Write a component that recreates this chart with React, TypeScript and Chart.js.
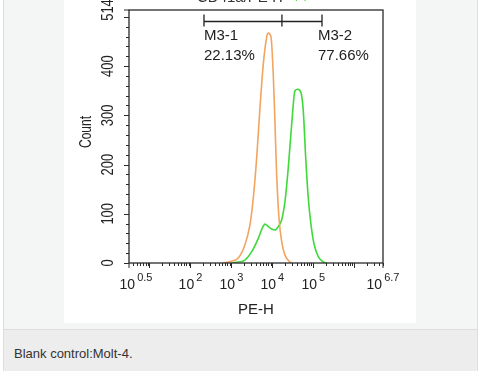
import React, { useEffect, useRef } from "react";
import { Chart, registerables } from "chart.js";

Chart.register(...registerables);

// Isotype (blank) control histogram: PE-H channel value, count
const isoX = [630, 930, 1470, 2140, 2840, 3420, 4140, 4980, 6000, 7260, 7940, 9250, 10500, 11600, 12700, 14500, 16900, 20300, 26900, 30500];
const isoY = [0, 3, 10, 37, 78, 132, 214, 316, 404, 459, 467, 459, 384, 282, 180, 91, 43, 16, 2, 0];

// Stained sample histogram
const stainX = [1000, 1470, 2140, 3130, 4530, 5670, 6610, 7940, 9620, 11600, 13900, 16900, 20300, 24400, 29600, 35600, 41500, 49900, 56800, 65000, 75200, 87500, 105000, 132000, 175000, 214000];
const stainY = [0, 2, 6, 23, 50, 71, 79, 74, 69, 67, 74, 88, 125, 193, 282, 350, 353, 346, 309, 214, 132, 78, 37, 13, 2, 0];

// Axes
const xMin = Math.pow(10, 0.5);
const xMax = Math.pow(10, 6.7);
const xTickValues = [Math.pow(10, 0.5), 1e2, 1e3, 1e4, 1e5, Math.pow(10, 6.7)];
const xTickExponents = ["0.5", "2", "3", "4", "5", "6.7"];
const yMax = 514;
const yTickValues = [0, 100, 200, 300, 400, 514];
const yTickLabels = ["0", "100", "200", "300", "400", "514"];

// Gates
const gateEdges = [214, 17100, 162600];
const gateLevel = 492;
const gateNames = ["M3-1", "M3-2"];
const gatePercents = ["22.13%", "77.66%"];

const FONT = '"Liberation Sans", Arial, Helvetica, sans-serif';

const axesPlugin = {
  id: "facsAxes",
  afterDraw(chart: any) {
    const ctx = chart.ctx as CanvasRenderingContext2D;
    const area = chart.chartArea;
    const xs = chart.scales.x;
    const ys = chart.scales.y;
    ctx.save();

    // title fragment (cropped at top)
    ctx.font = `15px ${FONT}`;
    ctx.textAlign = "left";
    ctx.textBaseline = "alphabetic";
    ctx.fillStyle = "#333";
    ctx.fillText("CD41a/PE IT", 133, 2);
    ctx.fillStyle = "#44dd33";
    ctx.fillText("++", 228, 2);

    // frame
    ctx.strokeStyle = "#2a2a2a";
    ctx.lineWidth = 1.3;
    ctx.strokeRect(area.left, area.top, area.right - area.left, area.bottom - area.top);

    // x ticks
    ctx.lineWidth = 1;
    ctx.beginPath();
    for (let n = 0; n <= 6; n++) {
      for (let k = 1; k <= 9; k++) {
        const v = k * Math.pow(10, n);
        if (v < xMin || v > xMax) continue;
        const p = Math.round(xs.getPixelForValue(v)) + 0.5;
        ctx.moveTo(p, area.bottom);
        ctx.lineTo(p, area.bottom + (k === 1 ? 5 : 3));
      }
    }
    for (const v of [xMin, xMax]) {
      const p = xs.getPixelForValue(v);
      ctx.moveTo(p, area.bottom);
      ctx.lineTo(p, area.bottom + 5);
    }
    // y ticks
    for (let v = 0; v <= yMax; v += 20) {
      const p = Math.round(ys.getPixelForValue(v)) + 0.5;
      ctx.moveTo(area.left, p);
      ctx.lineTo(area.left - (v % 100 === 0 ? 5 : 3), p);
    }
    {
      const p = ys.getPixelForValue(yMax);
      ctx.moveTo(area.left, p);
      ctx.lineTo(area.left - 5, p);
    }
    ctx.stroke();

    // x labels
    ctx.fillStyle = "#222";
    xTickValues.forEach((v, i) => {
      const base = "10";
      const exp = xTickExponents[i];
      ctx.font = `14px ${FONT}`;
      const wb = ctx.measureText(base).width;
      ctx.font = `11px ${FONT}`;
      const we = ctx.measureText(exp).width;
      const gap = 2;
      const total = wb + gap + we;
      let cx = xs.getPixelForValue(v);
      if (i === 0) cx += 7;
      const x0 = cx - total / 2;
      ctx.textAlign = "left";
      ctx.font = `14px ${FONT}`;
      ctx.fillText(base, x0, 289);
      ctx.font = `11px ${FONT}`;
      ctx.fillText(exp, x0 + wb + gap, 281);
    });

    // y labels (rotated)
    const rot = (t: string, x: number, y: number, size: number, sy: number) => {
      ctx.save();
      ctx.translate(x, y);
      ctx.rotate(-Math.PI / 2);
      ctx.scale(1, sy);
      ctx.font = `${size}px ${FONT}`;
      ctx.textAlign = "center";
      ctx.textBaseline = "middle";
      ctx.fillText(t, 0, 0);
      ctx.restore();
    };
    yTickValues.forEach((v, i) => {
      rot(yTickLabels[i], area.left - 20, ys.getPixelForValue(v), 13, 1.25);
    });
    rot("Count", 23, 132, 12, 1.3);

    // x title
    ctx.font = `15px ${FONT}`;
    ctx.textAlign = "center";
    ctx.textBaseline = "alphabetic";
    ctx.fillText("PE-H", (area.left + area.right) / 2, 314);

    // gate marker
    const gy = Math.round(ys.getPixelForValue(gateLevel)) + 0.5;
    const gx = gateEdges.map((v) => xs.getPixelForValue(v));
    ctx.strokeStyle = "#222";
    ctx.lineWidth = 1.3;
    ctx.beginPath();
    ctx.moveTo(gx[0], gy);
    ctx.lineTo(gx[gx.length - 1], gy);
    gx.forEach((p) => {
      ctx.moveTo(p, gy - 7);
      ctx.lineTo(p, gy + 5);
    });
    ctx.stroke();

    ctx.font = `15px ${FONT}`;
    ctx.textAlign = "left";
    ctx.fillStyle = "#222";
    const labelX = [gx[0], gx[2] - 4];
    gateNames.forEach((name, i) => {
      ctx.fillText(name, labelX[i], gy + 18);
      ctx.fillText(gatePercents[i], labelX[i], gy + 38);
    });

    ctx.restore();
  },
};

export default function App() {
  const ref = useRef<HTMLCanvasElement | null>(null);

  useEffect(() => {
    if (!ref.current) return;
    const chart = new Chart(ref.current, {
      type: "line",
      data: {
        datasets: [
          {
            label: "Blank control",
            data: isoX.map((x, i) => ({ x, y: isoY[i] })),
            borderColor: "#f2a461",
            borderWidth: 1.6,
            pointRadius: 0,
            fill: false,
            cubicInterpolationMode: "monotone",
          },
          {
            label: "Molt-4",
            data: stainX.map((x, i) => ({ x, y: stainY[i] })),
            borderColor: "#3fd93a",
            borderWidth: 1.6,
            pointRadius: 0,
            fill: false,
            cubicInterpolationMode: "monotone",
          },
        ],
      },
      options: {
        animation: false,
        responsive: false,
        maintainAspectRatio: false,
        devicePixelRatio: 1,
        layout: { padding: { left: 65, right: 33, top: 10, bottom: 60 } },
        plugins: { legend: { display: false }, tooltip: { enabled: false } },
        events: [],
        scales: {
          x: { type: "logarithmic", min: xMin, max: xMax, display: false },
          y: { type: "linear", min: 0, max: yMax, display: false },
        },
      },
      plugins: [axesPlugin],
    });
    return () => chart.destroy();
  }, []);

  return (
    <div
      style={{
        position: "absolute",
        left: 0,
        top: 0,
        width: 484,
        height: 371,
        background: "#ffffff",
        overflow: "hidden",
        fontFamily: FONT,
      }}
    >
      <div
        style={{
          position: "absolute",
          left: 3,
          top: -20,
          width: 475,
          height: 420,
          boxSizing: "border-box",
          border: "1px solid #dcdedf",
          background: "#f4f5f5",
        }}
      />
      <canvas
        ref={ref}
        width={352}
        height={323}
        style={{ position: "absolute", left: 64, top: 0, width: 352, height: 323, background: "#ffffff" }}
      />
      <div
        style={{
          position: "absolute",
          left: 4,
          top: 329,
          width: 473,
          height: 60,
          borderTop: "1px solid #dcdedf",
          background: "#ededed",
        }}
      />
      <div
        style={{
          position: "absolute",
          left: 14,
          top: 346,
          fontSize: 13,
          lineHeight: "15px",
          color: "#333333",
          whiteSpace: "nowrap",
        }}
      >
        Blank control:Molt-4.
      </div>
    </div>
  );
}
